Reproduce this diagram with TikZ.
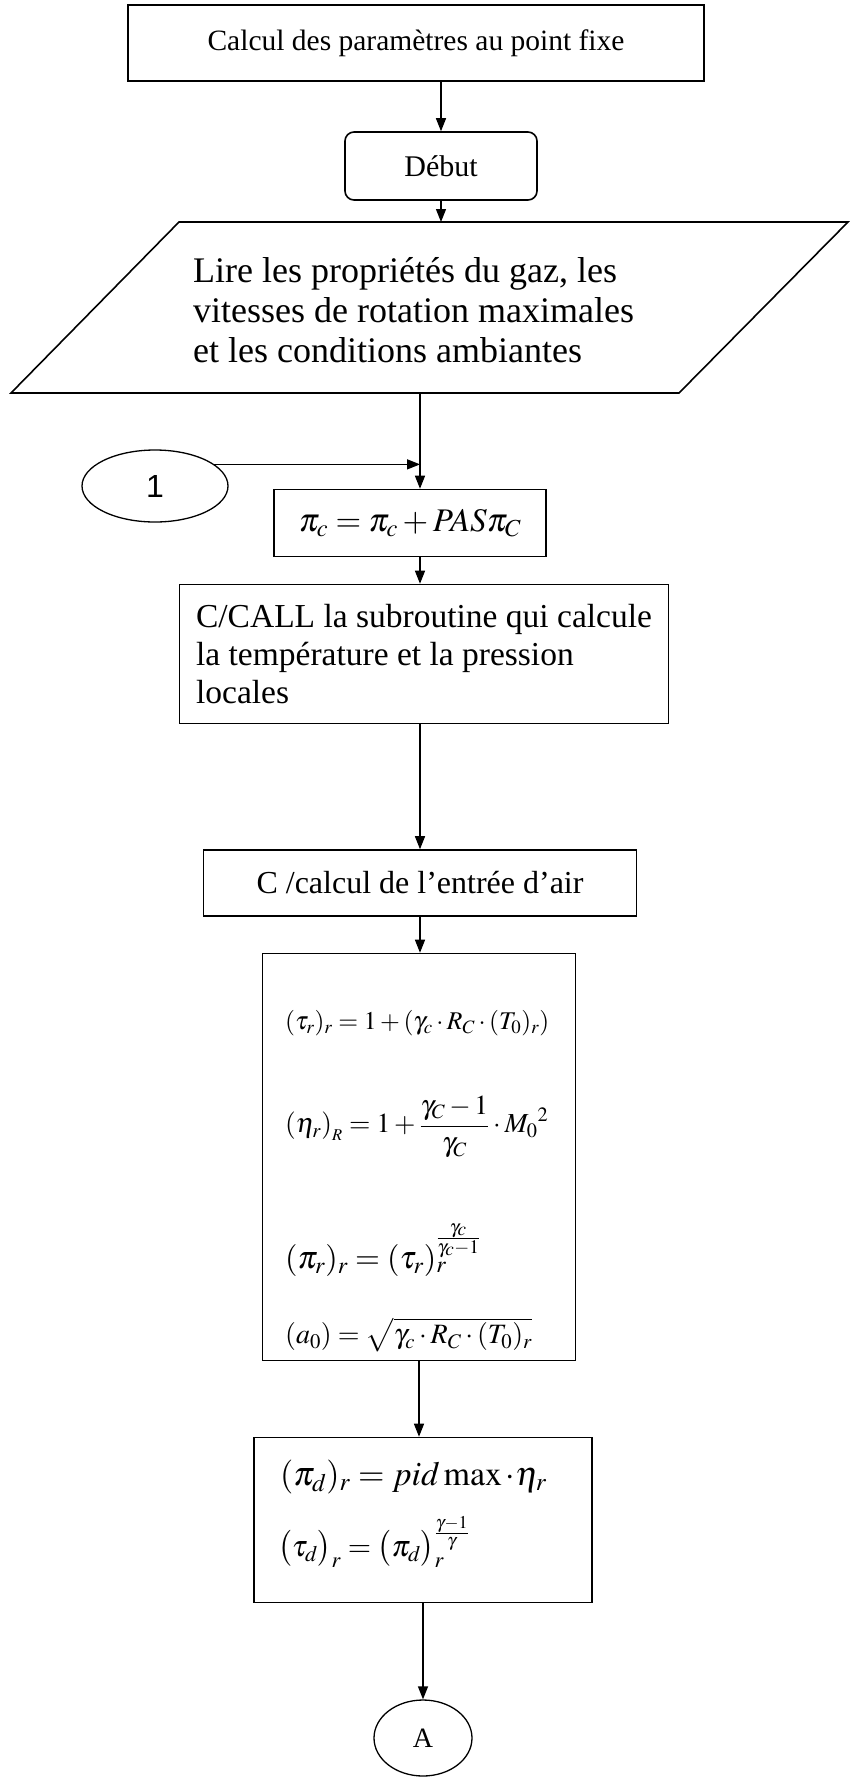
\documentclass[tikz,border=0pt]{standalone}
\usepackage{mathptmx}
\usepackage{fontspec}
\setmainfont{Liberation Serif}
\setsansfont{Liberation Sans}
\usetikzlibrary{arrows.meta,positioning,shapes.geometric}

\newcommand{\fsz}[2]{\fontsize{#1}{#2}\selectfont}

\begin{document}
\begin{tikzpicture}[
  x=1pt, y=1pt,
  box/.style={draw, line width=1.6pt, inner sep=0pt},
  term/.style={draw, ellipse, line width=1.3pt, inner sep=0pt},
  flow/.style={-{Triangle[length=13pt, width=10pt]}, line width=1.3pt},
  txt/.style={inner sep=0pt, anchor=west, align=left}
]
\useasboundingbox (0,0) rectangle (852,-1778);

\node[box, minimum width=576pt, minimum height=76pt, font=\fsz{29.5}{34}] (calc) at (416,-43)
  {Calcul des paramètres au point fixe};
\node[box, rounded corners=9pt, minimum width=192pt, minimum height=68pt, font=\fsz{30}{36}] (debut) at (441,-166)
  {Début};

% parallelogramme de lecture
\coordinate (lire bl) at (11,-393);
\coordinate (lire br) at (679,-393);
\coordinate (lire tr) at (848,-222);
\coordinate (lire tl) at (179,-222);
\draw[line width=1.6pt] (lire bl) -- (lire br) -- (lire tr) -- (lire tl) -- cycle;
\node[txt, font=\fsz{36}{40}] (lire) at (193,-310)
  {Lire les propriétés du gaz, les\\vitesses de rotation maximales\\et les conditions ambiantes};
\coordinate (lire in) at (441,-222);
\coordinate (lire out) at (420,-393);

\node[term, minimum width=146pt, minimum height=72pt, font=\sffamily\fsz{32}{36}] (one) at (155,-486) {1};
\node[box, minimum width=272pt, minimum height=67pt, font=\fsz{33}{40}] (pic) at (410,-523)
  {$\pi_c=\pi_c+PAS\pi_C$};
\node[box, minimum width=489pt, minimum height=139pt, align=left, font=\fsz{33.5}{38}] (call) at (424,-654)
  {C/CALL la subroutine qui calcule\\la température et la pression\\locales};
\node[box, minimum width=433pt, minimum height=66pt, font=\fsz{32}{36}] (entree) at (420,-883)
  {C /calcul de l’entrée d’air};

% bloc entree d'air
\node[box, minimum width=313pt, minimum height=407pt] (ram) at (419,-1157) {};
\node[txt, font=\fsz{25.5}{30}] (taur) at (285,-1023) {$(\tau_r)_r=1+(\gamma_c\cdot R_C\cdot(T_0)_r)$};
\node[txt, font=\fsz{27.5}{32}] (etar) at (285,-1127) {$(\eta_r)_{_R}=1+\displaystyle\frac{\gamma_C-1}{\gamma_C}\cdot {M_0}^2$};
\node[txt, font=\fsz{32}{36}] (pir) at (285,-1250) {$(\pi_r)_r=(\tau_r)_r^{\frac{\gamma_c}{\gamma_c-1}}$};
\node[txt, font=\fsz{28}{34}] (sound) at (285,-1335) {$(a_0)=\sqrt{\gamma_c\cdot R_C\cdot(T_0)_r}$};

% bloc diffuseur
\node[box, minimum width=338pt, minimum height=165pt] (diff) at (423,-1520) {};
\node[txt, font=\fsz{34}{40}] (pid) at (280,-1477) {$(\pi_d)_r=pid\max\cdot\eta_r$};
\node[txt, font=\fsz{30}{36}] (taud) at (278,-1542) {$\bigl(\tau_d\bigr)_r=\bigl(\pi_d\bigr)_r^{\frac{\gamma-1}{\gamma}}$};

\node[term, minimum width=98pt, minimum height=76pt, font=\fsz{28}{32}] (conA) at (423,-1738) {A};

\draw[flow] (calc.south -| debut.north) -- (debut.north);
\draw[flow] (debut.south) -- (lire in);
\draw[flow] (lire out) -- (lire out |- pic.north);
\draw[flow] (one.20) -- (one.20 -| lire out);
\draw[flow] (pic.south -| lire out) -- (call.north -| lire out);
\draw[flow] (call.south -| lire out) -- (entree.north -| lire out);
\draw[flow] (entree.south) -- (entree.south |- ram.north);
\draw[flow] (ram.south) -- (ram.south |- diff.north);
\draw[flow] (diff.south) -- (conA.north);
\end{tikzpicture}
\end{document}
